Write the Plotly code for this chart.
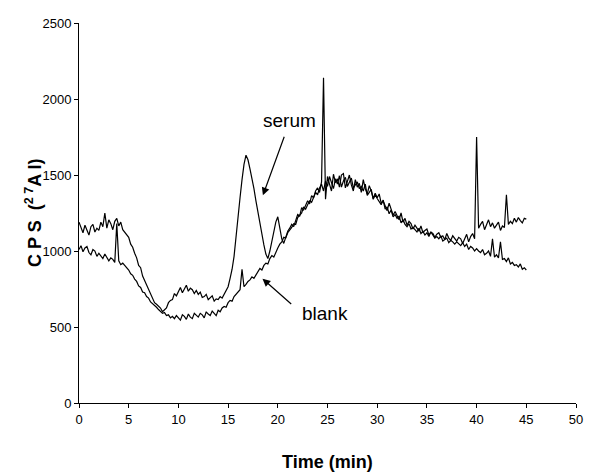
import plotly.graph_objects as go

# Sampling interval of the traces (minutes)
time_step_min = 0.2

# CPS (27Al) for the serum run, one value every 0.2 min from 0 to 45 min
serum_cps = [
    1190, 1150, 1120, 1170, 1140, 1105, 1160, 1175, 1125, 1150,
    1135, 1190, 1160, 1250, 1150, 1205, 1180, 1140, 1195, 1215,
    1165, 1190, 1140, 1125, 1110, 1090, 1045, 1025, 985, 955,
    905, 890, 835, 805, 770, 740, 720, 690, 660, 650,
    640, 625, 600, 615, 625, 660, 675, 680, 720, 705,
    735, 760, 725, 750, 775, 735, 755, 745, 720, 740,
    715, 730, 695, 700, 715, 680, 690, 705, 670, 685,
    680, 700, 690, 715, 735, 765, 820, 880, 965, 1080,
    1220, 1350, 1470, 1570, 1630, 1600, 1540, 1480, 1410, 1330,
    1250, 1180, 1110, 1040, 980, 950, 1000, 1060, 1130, 1190,
    1225, 1140, 1080, 1050, 1095, 1130, 1150, 1175, 1160, 1205,
    1240, 1230, 1285, 1270, 1295, 1330, 1310, 1365, 1350, 1395,
    1415, 1385, 1455, 2140, 1340, 1490, 1440, 1395, 1505, 1450,
    1475, 1420, 1500, 1510, 1415, 1455, 1500, 1435, 1395, 1470,
    1420, 1445, 1385, 1470, 1410, 1375, 1430, 1395, 1345, 1380,
    1350, 1375, 1315, 1330, 1295, 1265, 1315, 1270, 1235, 1260,
    1230, 1205, 1250, 1190, 1215, 1170, 1195, 1180, 1145, 1170,
    1150, 1130, 1165, 1120, 1135, 1145, 1105, 1125, 1115, 1090,
    1110, 1120, 1090, 1100, 1075, 1115, 1085, 1070, 1100, 1080,
    1065, 1090, 1080, 1050, 1085, 1110, 1060, 1095, 1115, 1080,
    1750, 1150, 1175, 1195, 1140, 1170, 1205, 1160, 1185, 1150,
    1170, 1190, 1135, 1165, 1155, 1370, 1175, 1195, 1180, 1215,
    1190, 1220, 1200, 1185, 1215, 1210,
]

# CPS (27Al) for the blank run, same sampling
blank_cps = [
    1010, 1035, 995, 1020, 1030, 990, 975, 1010, 1000, 965,
    985, 970, 950, 980, 960, 935, 955, 945, 925, 1180,
    935, 910, 920, 905, 885, 875, 850, 840, 815, 800,
    770, 760, 730, 725, 700, 690, 665, 655, 640, 630,
    615, 605, 590, 595, 575, 580, 560, 570, 555, 575,
    560, 545, 580, 570, 550, 585, 565, 555, 590, 575,
    565, 590, 580, 560, 600, 585, 575, 605, 590, 575,
    610, 600, 625, 635, 630, 660, 675, 670, 700, 715,
    735, 745, 880, 765, 780, 800, 810, 830, 820, 845,
    860, 885, 875, 905, 920, 915, 950, 970, 960, 995,
    1020, 1045, 1060, 1090, 1085, 1120, 1135, 1155, 1180, 1175,
    1220, 1235, 1250, 1290, 1275, 1305, 1330, 1320, 1360, 1385,
    1370, 1415, 1440, 1395, 1460, 1425, 1490, 1445, 1410, 1475,
    1440, 1495, 1420, 1460, 1485, 1425, 1450, 1480, 1415, 1440,
    1455, 1410, 1425, 1395, 1440, 1365, 1390, 1405, 1340, 1370,
    1345, 1320, 1305, 1335, 1275, 1290, 1245, 1270, 1225, 1240,
    1215, 1230, 1185, 1205, 1175, 1160, 1180, 1145, 1155, 1140,
    1125, 1150, 1115, 1130, 1105, 1120, 1095, 1125, 1100, 1085,
    1095, 1080, 1100, 1065, 1075, 1085, 1055, 1070, 1060, 1045,
    1060, 1050, 1035, 1055, 1030, 1045, 1010, 1030, 1020, 1000,
    1015, 1000, 990, 1010, 975, 985, 1000, 965, 1080, 960,
    975, 955, 1060, 945, 950, 930, 955, 915, 925, 905,
    910, 895, 915, 880, 890, 875,
]

serum_time = [round(i * time_step_min, 1) for i in range(len(serum_cps))]
blank_time = [round(i * time_step_min, 1) for i in range(len(blank_cps))]

x_ticks = [0, 5, 10, 15, 20, 25, 30, 35, 40, 45, 50]
y_ticks = [0, 500, 1000, 1500, 2000, 2500]

FONT = "Liberation Sans, Arial, sans-serif"

fig = go.Figure()
fig.add_trace(go.Scatter(x=blank_time, y=blank_cps, mode="lines", name="blank",
                         line=dict(color="#000000", width=1.2)))
fig.add_trace(go.Scatter(x=serum_time, y=serum_cps, mode="lines", name="serum",
                         line=dict(color="#000000", width=1.2)))

axis_common = dict(showgrid=False, zeroline=False, showline=True, linecolor="#000000",
                   linewidth=1, ticks="outside", ticklen=4, tickwidth=1, tickcolor="#000000",
                   automargin=False,
                   tickfont=dict(family=FONT, size=13, color="#000000"))

fig.update_xaxes(range=[0, 50], tickvals=x_ticks, **axis_common)
fig.update_yaxes(range=[0, 2500], tickvals=y_ticks, **axis_common)

annotations = [
    # arrows
    dict(x=18.5, y=1366, ax=20.7, ay=1761, xref="x", yref="y", axref="x", ayref="y",
         showarrow=True, arrowhead=2, arrowsize=1.3, arrowwidth=1.2, arrowcolor="#000000", text=""),
    dict(x=18.46, y=818, ax=21.5, ay=643, xref="x", yref="y", axref="x", ayref="y",
         showarrow=True, arrowhead=2, arrowsize=1.3, arrowwidth=1.2, arrowcolor="#000000", text=""),
    # labels
    dict(x=21.2, y=1860, xref="x", yref="y", text="serum", showarrow=False,
         font=dict(family=FONT, size=19, color="#000000")),
    dict(x=24.7, y=590, xref="x", yref="y", text="blank", showarrow=False,
         font=dict(family=FONT, size=19, color="#000000")),
    # axis titles
    dict(x=0.5, y=0, xref="paper", yref="paper", xanchor="center", yanchor="middle",
         yshift=-59, text="<b>Time (min)</b>",
         showarrow=False, font=dict(family=FONT, size=18, color="#000000")),
    dict(x=0, y=0.5, xref="paper", yref="paper", xanchor="center", yanchor="middle",
         xshift=-46, textangle=-90,
         text="<b>C P S  (<sup>2 7</sup>A l)</b>", showarrow=False,
         font=dict(family=FONT, size=18, color="#000000")),
]

# The page body adds an 8 px offset, so the figure is 8 px smaller and shifted.
fig.update_layout(
    width=587, height=466,
    margin=dict(l=71, r=19, t=15, b=71),
    paper_bgcolor="#ffffff", plot_bgcolor="#ffffff",
    showlegend=False,
    annotations=annotations,
)

fig.write_html("out.html")
